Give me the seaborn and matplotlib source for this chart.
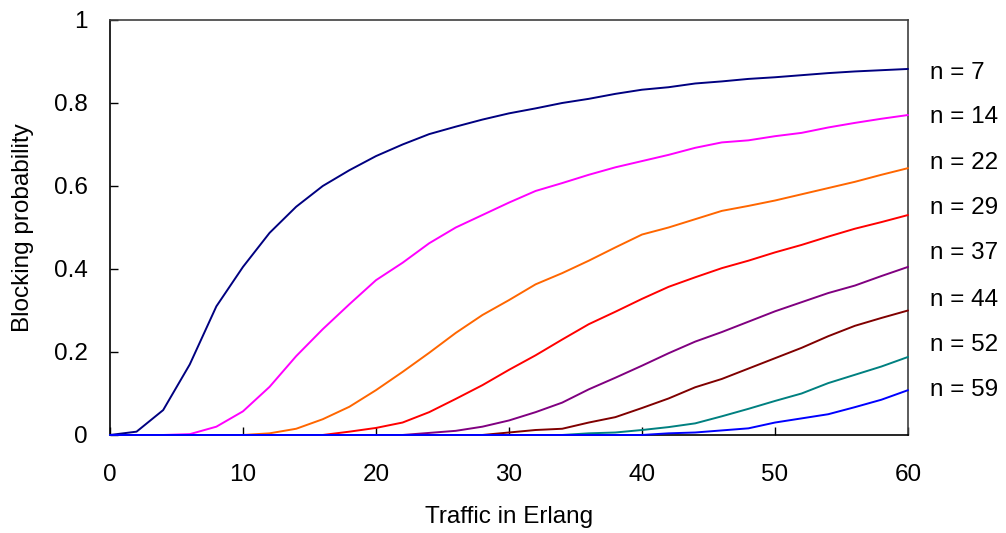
import pandas as pd
import seaborn as sns
import matplotlib.pyplot as plt

# traffic offered (Erlang) and blocking probability
traffic = list(range(0, 61, 2))

b_n7 = [0, 0.008, 0.06, 0.17, 0.31, 0.405, 0.487, 0.55, 0.60, 0.638, 0.672,
        0.70, 0.725, 0.743, 0.76, 0.775, 0.787, 0.80, 0.81, 0.822, 0.832,
        0.838, 0.847, 0.852, 0.858, 0.862, 0.867, 0.872, 0.876, 0.879, 0.882]
b_n14 = [0, 0, 0, 0.002, 0.02, 0.057, 0.116, 0.19, 0.255, 0.315, 0.373,
         0.415, 0.462, 0.50, 0.53, 0.56, 0.588, 0.607, 0.627, 0.645, 0.66,
         0.675, 0.692, 0.705, 0.71, 0.72, 0.728, 0.741, 0.752, 0.762, 0.771]
b_n22 = [0] * 6 + [0.004, 0.015, 0.038, 0.068, 0.108, 0.152, 0.198, 0.246,
                   0.289, 0.325, 0.363, 0.39, 0.42, 0.452, 0.483, 0.50, 0.52,
                   0.54, 0.552, 0.565, 0.58, 0.595, 0.61, 0.627, 0.643]
b_n29 = [0] * 9 + [0.008, 0.017, 0.03, 0.055, 0.087, 0.12, 0.157, 0.192,
                   0.23, 0.267, 0.297, 0.328, 0.357, 0.38, 0.402, 0.42, 0.44,
                   0.458, 0.478, 0.497, 0.513, 0.53]
b_n37 = [0] * 12 + [0.005, 0.01, 0.02, 0.035, 0.055, 0.078, 0.11, 0.138,
                    0.167, 0.197, 0.225, 0.248, 0.273, 0.298, 0.32, 0.342,
                    0.36, 0.383, 0.405]
b_n44 = [0] * 15 + [0.006, 0.012, 0.015, 0.03, 0.043, 0.065, 0.088, 0.115,
                    0.135, 0.16, 0.185, 0.21, 0.238, 0.263, 0.282, 0.30]
b_n52 = [0] * 18 + [0.004, 0.006, 0.012, 0.019, 0.028, 0.045, 0.063, 0.082,
                    0.10, 0.125, 0.145, 0.165, 0.188]
b_n59 = [0] * 21 + [0.004, 0.006, 0.011, 0.016, 0.03, 0.04, 0.05, 0.067,
                    0.085, 0.108]

labels = ['n = 7', 'n = 14', 'n = 22', 'n = 29',
          'n = 37', 'n = 44', 'n = 52', 'n = 59']
series = [b_n7, b_n14, b_n22, b_n29, b_n37, b_n44, b_n52, b_n59]
colors = ['#000080', '#FF00FF', '#FF6600', '#FF0000',
          '#800080', '#800000', '#008080', '#0000FF']

frames = []
for lab, vals in zip(labels, series):
    frames.append(pd.DataFrame({'traffic': traffic, 'blocking': vals, 'n': lab}))
df = pd.concat(frames, ignore_index=True)

sns.set_style('white')
plt.rcParams['font.family'] = ['Liberation Sans', 'DejaVu Sans']
plt.rcParams['text.color'] = 'black'
plt.rcParams['axes.labelcolor'] = 'black'
plt.rcParams['xtick.color'] = 'black'
plt.rcParams['ytick.color'] = 'black'

fig = plt.figure(figsize=(10.06, 5.33), dpi=100)
ax = fig.add_axes([0.1093, 0.1839, 0.7933, 0.7786])

sns.lineplot(data=df, x='traffic', y='blocking', hue='n', hue_order=labels,
             palette=colors, linewidth=1.4, legend=False, ax=ax, zorder=3,
             clip_on=False)

ax.set_xlim(0, 60)
ax.set_ylim(0, 1)
ax.set_xticks(range(0, 61, 10))
ax.set_yticks([0, 0.2, 0.4, 0.6, 0.8, 1])
ax.set_yticklabels(['0', '0.2', '0.4', '0.6', '0.8', '1'])
ax.tick_params(axis='x', direction='in', length=6, width=1, pad=21,
               labelsize=17.5, bottom=True)
ax.tick_params(axis='y', direction='in', length=6, width=1, pad=16,
               labelsize=17.5, left=True)
ax.set_xlabel('Traffic in Erlang', fontsize=17.5, labelpad=14)
ax.set_ylabel('Blocking probability', fontsize=17.5, labelpad=14)

for side in ['left', 'bottom']:
    ax.spines[side].set_color('black')
    ax.spines[side].set_linewidth(1.2)
for side in ['top', 'right']:
    ax.spines[side].set_color('#404040')
    ax.spines[side].set_linewidth(1.2)

# curve labels to the right of the plot
label_y = [0.872, 0.766, 0.655, 0.547, 0.439, 0.325, 0.217, 0.108]
for lab, yy in zip(labels, label_y):
    ax.text(1.028, yy, lab, transform=ax.transAxes, va='center', ha='left',
            fontsize=17.5)

fig.savefig('out.png', dpi=100)
